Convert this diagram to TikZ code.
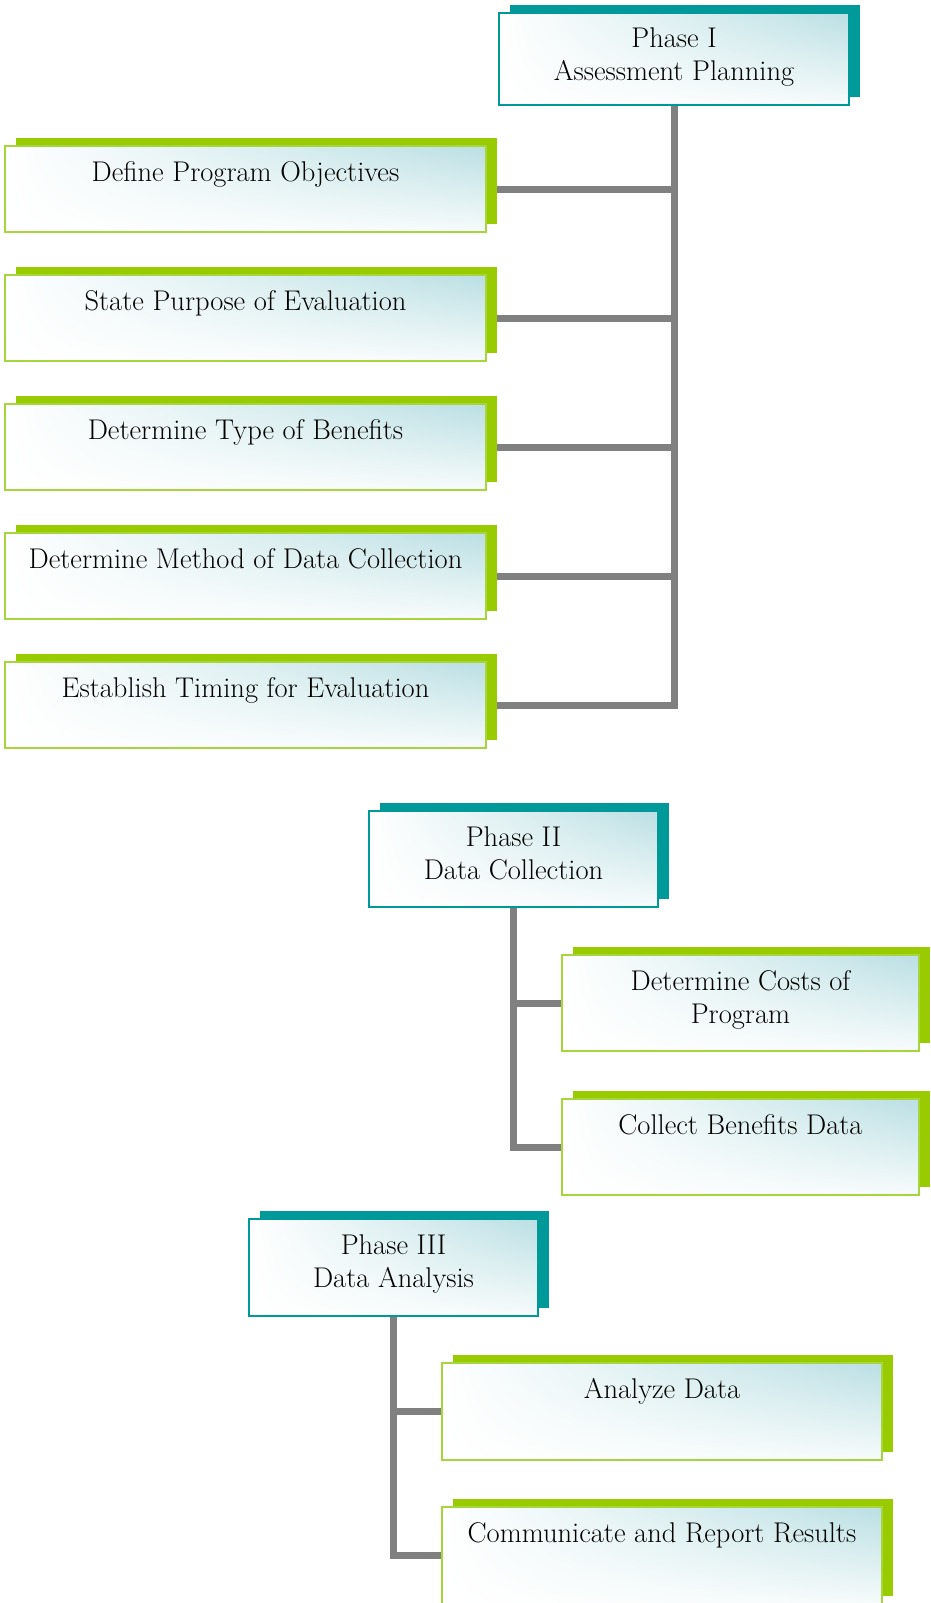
\documentclass[tikz,border=0pt]{standalone}
\usetikzlibrary{calc,shadings}
\definecolor{phteal}{HTML}{009999}
\definecolor{stgreen}{HTML}{99CC00}
\definecolor{stborder}{HTML}{A6D63C}
\definecolor{fillcyan}{HTML}{BADFE3}
\definecolor{conngray}{HTML}{808080}
\pgfdeclarelayer{bg}
\pgfdeclarelayer{mid}
\pgfsetlayers{bg,mid,main}
\newcommand{\boxtext}[3]{\parbox[c][#2pt][t]{#1pt}{\fontsize{28.5}{33}\selectfont\centering\rule{0pt}{35pt}#3\par}}
\tikzset{
  boxbase/.style={inner sep=0pt, outer sep=0pt, anchor=north west, shade,
    upper left=white, lower left=white, upper right=fillcyan, lower right=fillcyan!12},
  phasebox/.style={boxbase, draw=phteal, line width=2.5pt},
  stepbox/.style={boxbase, draw=stborder, line width=2pt},
  conn/.style={draw=conngray, line width=7pt, line join=miter},
}
\newcommand{\shadowof}[2]{\fill[#1] ([xshift=11pt,yshift=8pt]#2.south west) rectangle ([xshift=11pt,yshift=8pt]#2.north east);}
\begin{document}
\begin{tikzpicture}[x=1pt,y=-1pt]
\useasboundingbox (0,0) rectangle (930,1603);
% Phase I
\node[phasebox] (p1) at (499,13) {\boxtext{350}{92}{Phase I\\Assessment Planning}};
\node[stepbox] (s11) at (5,146) {\boxtext{481}{86}{Define Program Objectives}};
\node[stepbox] (s12) at (5,275) {\boxtext{481}{86}{State Purpose of Evaluation}};
\node[stepbox] (s13) at (5,404) {\boxtext{481}{86}{Determine Type of Benefits}};
\node[stepbox] (s14) at (5,533) {\boxtext{481}{86}{Determine Method of Data Collection}};
\node[stepbox] (s15) at (5,662) {\boxtext{481}{86}{Establish Timing for Evaluation}};
% Phase II
\node[phasebox] (p2) at (369,811) {\boxtext{289}{96}{Phase II\\Data Collection}};
\node[stepbox] (s21) at (562,955) {\boxtext{357}{96}{Determine Costs of\\Program}};
\node[stepbox] (s22) at (562,1099) {\boxtext{357}{96}{Collect Benefits Data}};
% Phase III
\node[phasebox] (p3) at (249,1219) {\boxtext{289}{97}{Phase III\\Data Analysis}};
\node[stepbox] (s31) at (442,1363) {\boxtext{440}{97}{Analyze Data}};
\node[stepbox] (s32) at (442,1507) {\boxtext{440}{97}{Communicate and Report Results}};
\begin{pgfonlayer}{mid}
  \shadowof{phteal}{p1}
  \shadowof{phteal}{p2}
  \shadowof{phteal}{p3}
  \foreach \n in {s11,s12,s13,s14,s15,s21,s22,s31,s32}{\shadowof{stgreen}{\n}}
\end{pgfonlayer}
\begin{pgfonlayer}{bg}
  \fill[white] (0,0) rectangle (930,1603);
  \draw[conn] (p1.south) |- (s15.east);
  \foreach \n in {s11,s12,s13,s14}{\draw[conn] (\n.east) -- (\n.east -| p1.south);}
  \draw[conn] (p2.south) |- (s22.west);
  \draw[conn] (s21.west) -- (s21.west -| p2.south);
  \draw[conn] (p3.south) |- (s32.west);
  \draw[conn] (s31.west) -- (s31.west -| p3.south);
\end{pgfonlayer}
\end{tikzpicture}
\end{document}
